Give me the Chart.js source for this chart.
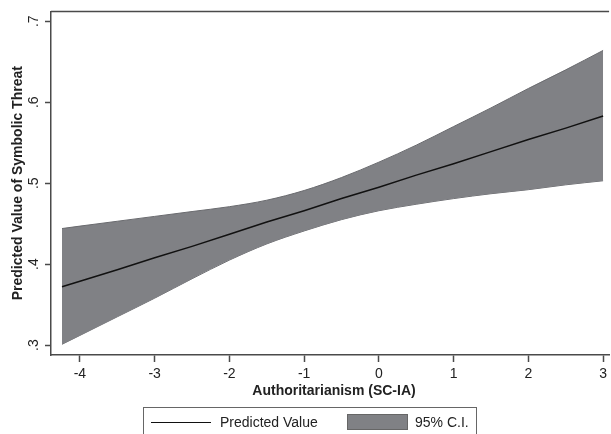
<!DOCTYPE html>
<html lang="en">
<head>
    <meta charset="UTF-8">
    <title>Predicted Value of Symbolic Threat</title>
    <script src="https://cdn.jsdelivr.net/npm/chart.js"></script>
    <style>
        body {
            margin: 0;
            padding: 0;
            background: white;
            font-family: 'Liberation Sans', Arial, sans-serif;
        }
        #wrap {
            position: relative;
            width: 611px;
            height: 434px;
            overflow: hidden;
        }
        .legend {
            position: absolute;
            left: 143px;
            top: 407px;
            width: 334px;
            height: 40px;
            border: 1px solid #666;
            box-sizing: border-box;
            font-size: 14px;
            color: #222;
        }
        .legend .line {
            position: absolute;
            left: 7px;
            top: 14px;
            width: 60px;
            height: 0;
            border-top: 1.5px solid #111;
        }
        .legend .swatch {
            position: absolute;
            left: 203px;
            top: 6px;
            width: 59px;
            height: 14px;
            background: rgb(128, 129, 133);
            border: 1px solid #666;
        }
        .legend span {
            position: absolute;
            top: 6px;
            line-height: 16px;
        }
    </style>
</head>
<body>
    <div id="wrap">
        <canvas id="chart" width="611" height="434"></canvas>
        <div class="legend">
            <div class="line"></div>
            <span style="left: 76px;">Predicted Value</span>
            <div class="swatch"></div>
            <span style="left: 271px;">95% C.I.</span>
        </div>
    </div>

    <script>
        // values
        const authoritarianism = [-4.24, -4, -3.5, -3, -2.5, -2, -1.5, -1, -0.5, 0, 0.5, 1, 1.5, 2, 2.5, 3];
        const predicted = [0.372, 0.379, 0.393, 0.408, 0.422, 0.437, 0.452, 0.466, 0.481, 0.495, 0.510, 0.524, 0.539, 0.554, 0.568, 0.583];
        const ciUpper = [0.444, 0.447, 0.453, 0.459, 0.465, 0.471, 0.479, 0.491, 0.507, 0.526, 0.547, 0.570, 0.593, 0.617, 0.640, 0.664];
        const ciLower = [0.301, 0.312, 0.335, 0.358, 0.382, 0.405, 0.425, 0.441, 0.455, 0.466, 0.474, 0.481, 0.487, 0.492, 0.498, 0.503];

        const xTicks = [-4, -3, -2, -1, 0, 1, 2, 3];
        const yTicks = [0.3, 0.4, 0.5, 0.6, 0.7];
        const yTickLabels = ['.3', '.4', '.5', '.6', '.7'];

        const xTitle = 'Authoritarianism (SC-IA)';
        const yTitle = 'Predicted Value of Symbolic Threat';

        const toPoints = ys => authoritarianism.map((x, i) => ({ x: x, y: ys[i] }));

        const axisColor = '#4a4a4a';
        const textColor = '#222';
        const fontFamily = "'Liberation Sans', Arial, sans-serif";

        // frame, rotated y labels and axis titles, Stata style
        const stataDecor = {
            id: 'stataDecor',
            afterDraw(chart) {
                const ctx = chart.ctx;
                const area = chart.chartArea;
                const yScale = chart.scales.y;
                ctx.save();
                ctx.strokeStyle = axisColor;
                ctx.lineWidth = 1.5;
                ctx.beginPath();
                ctx.moveTo(area.left, area.top);
                ctx.lineTo(area.right, area.top);
                ctx.stroke();

                ctx.fillStyle = textColor;
                ctx.font = '14px ' + fontFamily;
                ctx.textAlign = 'center';
                ctx.textBaseline = 'alphabetic';
                yTicks.forEach((v, i) => {
                    ctx.save();
                    ctx.translate(38, yScale.getPixelForValue(v));
                    ctx.rotate(-Math.PI / 2);
                    ctx.fillText(yTickLabels[i], 0, 0);
                    ctx.restore();
                });

                ctx.font = 'bold 14px ' + fontFamily;
                ctx.save();
                ctx.translate(22, (area.top + area.bottom) / 2);
                ctx.rotate(-Math.PI / 2);
                ctx.fillText(yTitle, 0, 0);
                ctx.restore();

                ctx.textBaseline = 'middle';
                ctx.fillText(xTitle, 334, 391);
                ctx.restore();
            }
        };

        new Chart(document.getElementById('chart'), {
            type: 'line',
            data: {
                datasets: [
                    {
                        label: 'Predicted Value',
                        data: toPoints(predicted),
                        borderColor: '#111',
                        borderWidth: 1.5,
                        pointRadius: 0,
                        fill: false,
                        tension: 0
                    },
                    {
                        label: '95% C.I.',
                        data: toPoints(ciUpper),
                        borderColor: 'rgb(105, 106, 110)',
                        borderWidth: 1,
                        backgroundColor: 'rgb(128, 129, 133)',
                        pointRadius: 0,
                        fill: '+1',
                        cubicInterpolationMode: 'monotone'
                    },
                    {
                        label: 'lower',
                        data: toPoints(ciLower),
                        borderColor: 'rgb(105, 106, 110)',
                        borderWidth: 1,
                        pointRadius: 0,
                        fill: false,
                        cubicInterpolationMode: 'monotone'
                    }
                ]
            },
            options: {
                responsive: false,
                animation: false,
                devicePixelRatio: 1,
                layout: { padding: { top: 8, left: 0, right: 0, bottom: 0 } },
                plugins: {
                    legend: { display: false },
                    tooltip: { enabled: false }
                },
                scales: {
                    x: {
                        type: 'linear',
                        min: -4.387,
                        max: 3.08,
                        afterBuildTicks: scale => { scale.ticks = xTicks.map(v => ({ value: v })); },
                        afterFit: scale => { scale.height = 79; },
                        grid: {
                            drawOnChartArea: false,
                            drawTicks: true,
                            tickLength: 7,
                            tickColor: axisColor,
                            tickWidth: 1.5
                        },
                        border: { display: true, color: axisColor, width: 1.5 },
                        ticks: {
                            color: textColor,
                            font: { size: 14, family: fontFamily },
                            padding: 4,
                            maxRotation: 0,
                            autoSkip: false,
                            callback: v => String(v)
                        }
                    },
                    y: {
                        type: 'linear',
                        min: 0.2878,
                        max: 0.7122,
                        afterBuildTicks: scale => { scale.ticks = yTicks.map(v => ({ value: v })); },
                        afterFit: scale => { scale.width = 51; },
                        grid: {
                            drawOnChartArea: false,
                            drawTicks: true,
                            tickLength: 6,
                            tickColor: axisColor,
                            tickWidth: 1.5
                        },
                        border: { display: true, color: axisColor, width: 1.5 },
                        ticks: {
                            color: 'rgba(0,0,0,0)',
                            font: { size: 14, family: fontFamily }
                        }
                    }
                }
            },
            plugins: [stataDecor]
        });
    </script>
</body>
</html>
